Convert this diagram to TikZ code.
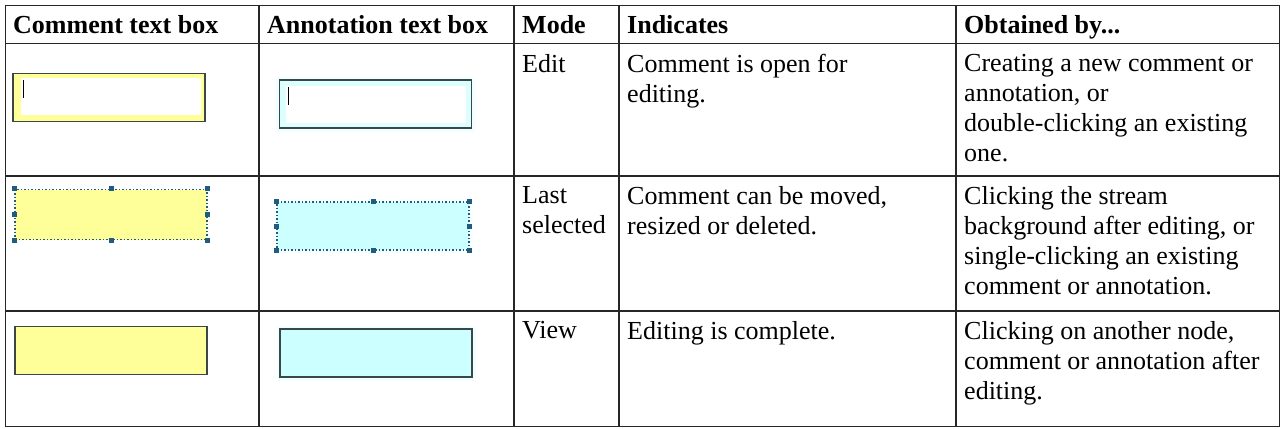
\documentclass[tikz,border=0pt]{standalone}
\usepackage{fontspec}
\setmainfont{Liberation Serif}
\usetikzlibrary{shapes.misc}

\definecolor{cmtyellow}{HTML}{FFFF99}
\definecolor{anncyan}{HTML}{CCFFFF}
\definecolor{boxedge}{HTML}{3C4646}
\definecolor{selblue}{HTML}{1F5C80}

\begin{document}
\begin{tikzpicture}[x=1pt,y=-1pt]
	\tikzstyle{every node}+=[inner sep=0pt]
	\tikzstyle{rule}=[line width=1.6pt, black!85]
	\tikzstyle{head}=[anchor=base west, font=\fontsize{26}{30}\selectfont\bfseries]
	\tikzstyle{cell}=[anchor=north west, align=left, font=\fontsize{26}{30}\selectfont]
	\tikzstyle{tbox}=[chamfered rectangle, chamfered rectangle xsep=5pt, chamfered rectangle ysep=5pt, minimum width=192pt, minimum height=48pt, line width=1.5pt, draw=boxedge]
	\tikzstyle{halo}=[preaction={draw=anncyan!30, line width=7pt}]
	\tikzstyle{selbox}=[rectangle, minimum width=192pt, minimum height=50pt, draw=selblue, line width=1.5pt, dotted]
	\tikzstyle{grip}=[rectangle, fill=selblue, minimum width=5pt, minimum height=5pt]
	\tikzstyle{hole}=[rectangle, fill=white, minimum width=180pt, minimum height=37pt]
	\useasboundingbox (0,0) rectangle (1281,428);
	% table rules
	\draw[rule] (5.5,5.5) rectangle (1279.5,426.5);
	\foreach \y in {43.5,176,311} \draw[rule] (5.5,\y) -- (1279.5,\y);
	\foreach \x in {259,514,619,956} \draw[rule] (\x,5.5) -- (\x,426.5);
	% header
	\node[head] (hcmt) at (13,33.5) {Comment text box};
	\node[head] (hann) at (267,33.5) {Annotation text box};
	\node[head] (hmode) at (522,33.5) {Mode};
	\node[head] (hind) at (627,33.5) {Indicates};
	\node[head] (hobt) at (964,33.5) {Obtained by...};
	% edit row
	\node[tbox, fill=cmtyellow] (editcmt) at (109,97.5) {};
	\node[hole] (editcmtin) at (110.5,96.5) {};
	\draw[line width=1.2pt] ([xshift=3pt,yshift=-2pt]editcmtin.north west) -- ([xshift=3pt,yshift=-20pt]editcmtin.north west);
	\node[tbox, halo, fill=anncyan!70] (editann) at (375.5,104) {};
	\node[hole] (editannin) at (375.5,104) {};
	\draw[line width=1.2pt] ([xshift=3pt,yshift=-2pt]editannin.north west) -- ([xshift=3pt,yshift=-20pt]editannin.north west);
	\node[cell] (mode1) at (522,54) {Edit};
	\node[cell] (ind1) at (627,54) {Comment is open for\\editing.};
	\node[cell] (obt1) at (964,54) {Creating a new comment or\\annotation, or\\double-clicking an existing\\one.};
	% last selected row
	\node[selbox, fill=cmtyellow] (selcmt) at (111,214.5) {};
	\foreach \a [count=\i] in {north west,north,north east,east,south east,south,south west,west}
		\node[grip] (selcmt-g\i) at (selcmt.\a) {};
	\node[selbox, halo, fill=anncyan, minimum height=48pt] (selann) at (373,226) {};
	\foreach \a [count=\i] in {north west,north,north east,east,south east,south,south west,west}
		\node[grip] (selann-g\i) at (selann.\a) {};
	\node[cell] (mode2) at (522,186) {Last\\selected};
	\node[cell] (ind2) at (627,186) {Comment can be moved,\\resized or deleted.};
	\node[cell] (obt2) at (964,186) {Clicking the stream\\background after editing, or\\single-clicking an existing\\comment or annotation.};
	% view row
	\node[tbox, fill=cmtyellow] (viewcmt) at (111,350.5) {};
	\node[tbox, halo, fill=anncyan] (viewann) at (376,353) {};
	\node[cell] (mode3) at (522,321) {View};
	\node[cell] (ind3) at (627,321) {Editing is complete.};
	\node[cell] (obt3) at (964,321) {Clicking on another node,\\comment or annotation after\\editing.};
\end{tikzpicture}
\end{document}
